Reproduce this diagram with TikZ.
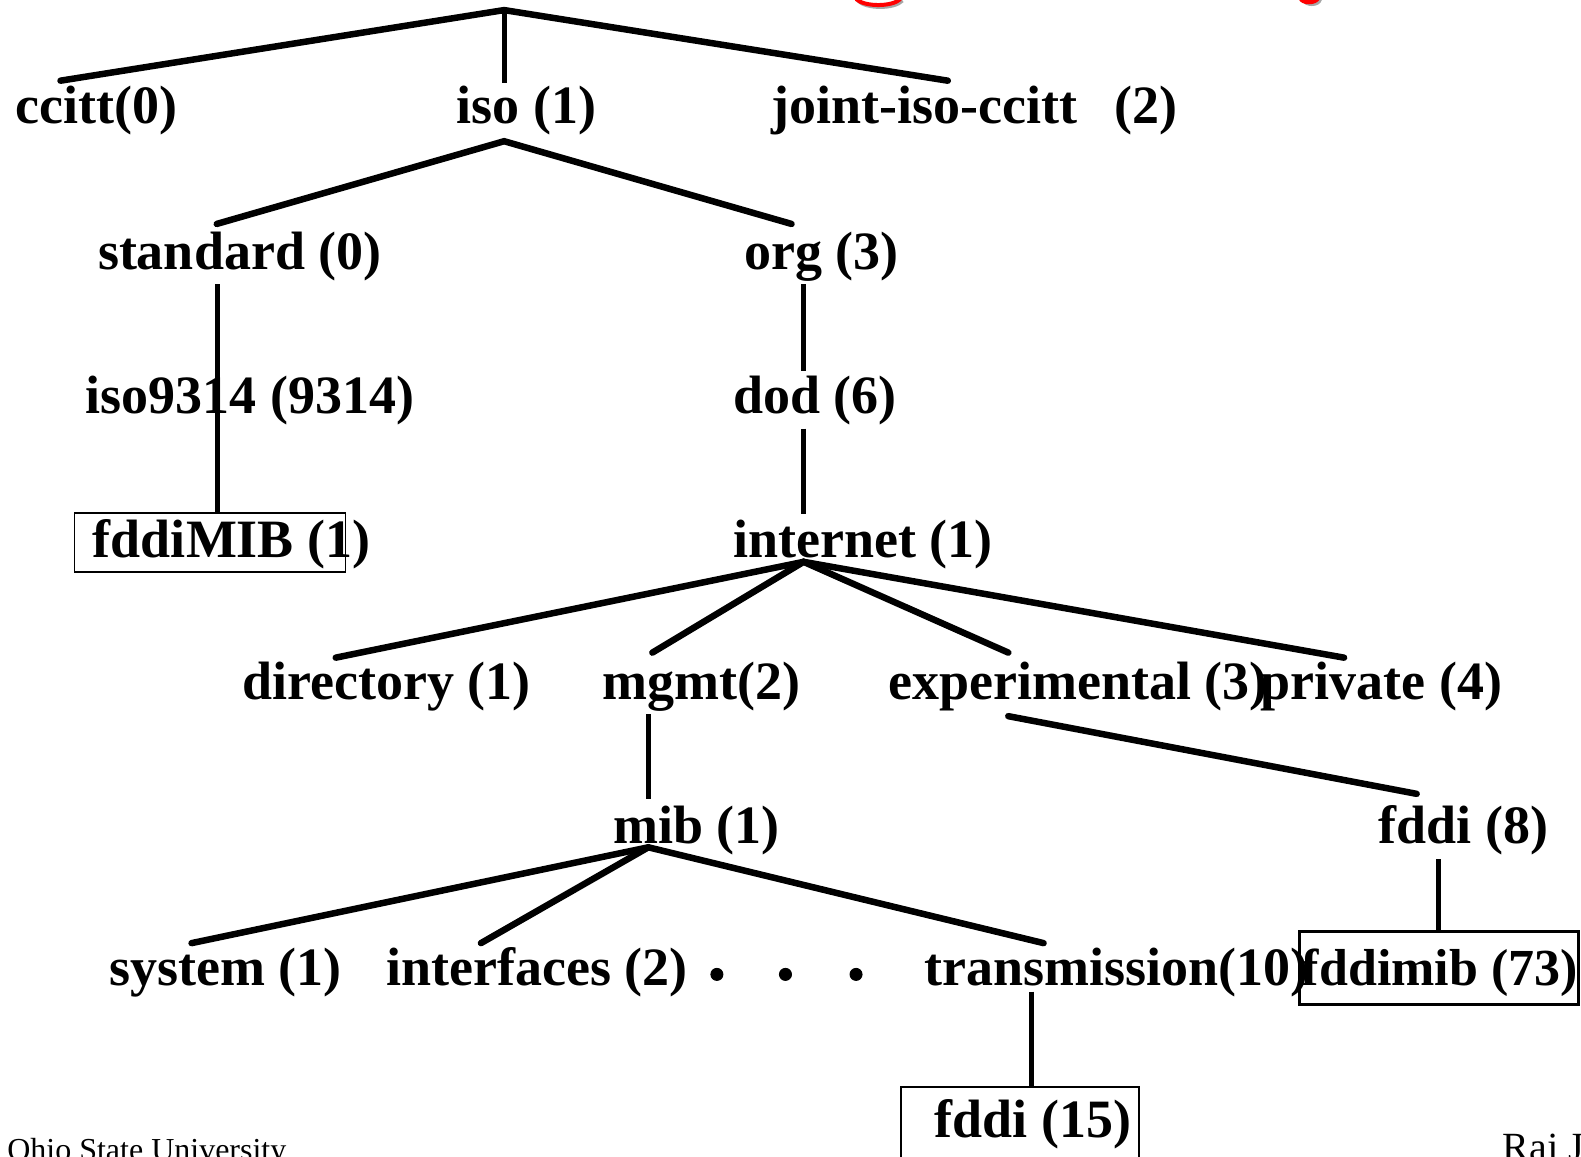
\documentclass[tikz,border=0pt]{standalone}
\usepackage{fontspec}
\setmainfont{Liberation Serif}
\begin{document}
\begin{tikzpicture}[x=1.0083pt,y=-1.0087pt,
  lbl/.style={anchor=base west, inner sep=0pt, font=\fontsize{54}{60}\selectfont\bfseries},
  foot/.style={anchor=base west, inner sep=0pt, font=\fontsize{32}{36}\selectfont},
  edge/.style={line width=6.5pt, line cap=round},
  vedge/.style={line width=5pt},
  box/.style={draw, line width=1.8pt, inner sep=0pt, anchor=north west},
  dotmark/.style={circle, fill=black, draw=black, line width=1pt, inner sep=0pt, minimum size=12pt}]
\useasboundingbox (0,0) rectangle (1568,1147);
% red title fragments (cut off at the top)
\draw[gray!70, line width=4pt] (851,0.5) .. controls (859,9) and (887,9) .. (895,0.5);
\draw[red, line width=4pt] (849,-1) .. controls (857,7) and (885,7) .. (893,-1);
\fill[gray!70] (1291,0) .. controls (1293,8) and (1309,8) .. (1311,0) -- cycle;
\fill[red] (1288,-1) .. controls (1290,6) and (1306,6) .. (1309,-1) -- cycle;
% boxes
\node[box, minimum width=271pt, minimum height=59pt] (boxMIB) at (73,508) {};
\node[box, line width=3pt, minimum width=279pt, minimum height=73pt] (boxmib) at (1287,922) {};
\node[box, minimum width=238pt, minimum height=90pt] (box15) at (893,1077) {};
% labels
\node[lbl] (ccitt) at (15,122) {ccitt(0)};
\node[lbl] (iso) at (453,122) {iso (1)};
\node[lbl] (joint) at (765,122) {joint-iso-ccitt\hspace{0.68em}(2)};
\node[lbl] (standard) at (97,267) {standard (0)};
\node[lbl] (org) at (738,267) {org (3)};
\node[lbl] (iso9314) at (85,410) {iso9314 (9314)};
\node[lbl] (dod) at (727,410) {dod (6)};
\node[lbl] (fddiMIB) at (92,553) {fddiMIB (1)};
\node[lbl] (internet) at (727,553) {internet (1)};
\node[lbl] (directory) at (240,693) {directory (1)};
\node[lbl] (mgmt) at (597,693) {mgmt(2)};
\node[lbl] (experimental) at (881,693) {experimental (3)};
\node[lbl] (private) at (1250,693) {private (4)};
\node[lbl] (mib) at (608,836) {mib (1)};
\node[lbl] (fddi8) at (1367,836) {fddi (8)};
\node[lbl] (system) at (108,977) {system (1)};
\node[lbl] (interfaces) at (383,977) {interfaces (2)};
\node[lbl] (transmission) at (917,977) {transmission(10)};
\node[lbl, font=\fontsize{52}{60}\selectfont\bfseries] (fddimib) at (1291,977) {fddimib (73)};
\node[lbl] (fddi15) at (927,1128) {fddi (15)};
\node[dotmark] (d1) at (711,966) {};
\node[dotmark] (d2) at (779,966) {};
\node[dotmark] (d3) at (849,966) {};
\node[foot] (osu) at (7,1150) {Ohio State University};
\node[foot, font=\fontsize{40}{44}\selectfont] (raj) at (1490,1150) {Raj Jain};
% junction coordinates
\coordinate (root) at (500,10);
\coordinate (cT) at (60,80);
\coordinate (iT) at (500,82);
\coordinate (jT) at (940,80);
\coordinate (isoB) at (500,140);
\coordinate (sT) at (215,222);
\coordinate (oT) at (785,222);
\coordinate (sB) at (216,282);
\coordinate (mibT) at (216,508);
\coordinate (oB) at (797,282);
\coordinate (dT) at (797,368);
\coordinate (dB) at (797,425);
\coordinate (inT) at (797,510);
\coordinate (inB) at (797,557);
\coordinate (dirT) at (333,652);
\coordinate (mgT) at (647,647);
\coordinate (exT) at (1000,647);
\coordinate (prT) at (1333,652);
\coordinate (mgB) at (643,708);
\coordinate (mbT) at (643,792);
\coordinate (exB) at (1000,710);
\coordinate (f8T) at (1405,787);
\coordinate (f8B) at (1427,852);
\coordinate (fmT) at (1427,922);
\coordinate (mbB) at (643,840);
\coordinate (syT) at (190,935);
\coordinate (ifT) at (477,935);
\coordinate (trT) at (1035,935);
\coordinate (trB) at (1023,983);
\coordinate (f15T) at (1023,1078);
% connectors
\draw[edge] (cT) -- (root) -- (jT);
\draw[vedge] (root) -- (iT);
\draw[edge] (sT) -- (isoB) -- (oT);
\draw[vedge] (sB) -- (mibT);
\draw[vedge] (oB) -- (dT);
\draw[vedge] (dB) -- (inT);
\draw[edge] (dirT) -- (inB) -- (prT);
\draw[edge] (mgT) -- (inB) -- (exT);
\draw[vedge] (mgB) -- (mbT);
\draw[edge] (exB) -- (f8T);
\draw[vedge] (f8B) -- (fmT);
\draw[edge] (syT) -- (mbB) -- (trT);
\draw[edge] (ifT) -- (mbB);
\draw[vedge] (trB) -- (f15T);
\end{tikzpicture}
\end{document}
